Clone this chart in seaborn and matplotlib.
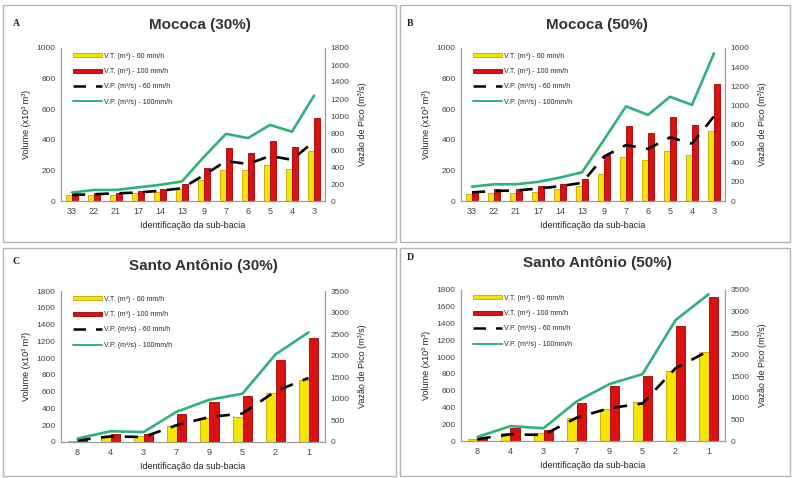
import numpy as np
import pandas as pd
import matplotlib
matplotlib.use("Agg")
import matplotlib.pyplot as plt
import seaborn as sns
from matplotlib.patches import Patch, Rectangle
from matplotlib.lines import Line2D

# sub-basins (x axis order)
cats_moc = ['33', '22', '21', '17', '14', '13', '9', '7', '6', '5', '4', '3']
cats_sa = ['8', '4', '3', '7', '9', '5', '2', '1']

# Mococa 30%
vt60_a = [40, 40, 40, 50, 60, 80, 140, 205, 200, 235, 210, 330]
vt100_a = [50, 55, 55, 65, 80, 110, 215, 345, 315, 390, 350, 545]
vp60_a = [70, 80, 90, 100, 120, 150, 305, 470, 435, 530, 485, 700]
vp100_a = [100, 130, 130, 160, 190, 230, 520, 790, 740, 895, 815, 1240]

# Mococa 50%
vt60_b = [45, 55, 50, 60, 80, 100, 175, 290, 265, 330, 300, 460]
vt100_b = [60, 80, 80, 95, 110, 145, 300, 490, 445, 550, 500, 765]
vp60_b = [90, 105, 110, 130, 155, 190, 465, 585, 545, 665, 600, 885]
vp100_b = [150, 175, 175, 200, 245, 300, 640, 990, 900, 1090, 1005, 1545]

# Santo Antonio 30%
vt60_c = [10, 60, 70, 190, 290, 300, 580, 740]
vt100_c = [25, 90, 100, 330, 480, 550, 980, 1240]
vp60_c = [40, 130, 115, 390, 580, 660, 1175, 1485]
vp100_c = [80, 250, 230, 700, 980, 1120, 2030, 2540]

# Santo Antonio 50%
vt60_d = [20, 100, 90, 270, 380, 470, 830, 1060]
vt100_d = [40, 150, 130, 450, 660, 775, 1370, 1720]
vp60_d = [46, 155, 140, 540, 760, 870, 1685, 2090]
vp100_d = [95, 345, 295, 915, 1320, 1550, 2800, 3400]

YELLOW = '#f4e600'
RED = '#dd1010'
GREEN = '#2fb27a'
GRAY = '#9a9a9a'

sns.set_style('white')
plt.rcParams['font.family'] = ['Liberation Sans', 'DejaVu Sans']

fig = plt.figure(figsize=(7.93, 4.78), dpi=100)
W, H = 793, 478


def px_axes(left, top, right, bottom):
    return fig.add_axes([left / W, 1 - bottom / H, (right - left) / W, (bottom - top) / H])


def panel(box, cats, vt60, vt100, vp60, vp100, ylim, yticks, rlim, rticks):
    ax = px_axes(*box)
    df = pd.DataFrame({
        'sub': cats * 2,
        'vol': vt60 + vt100,
        'chuva': ['60'] * len(cats) + ['100'] * len(cats),
    })
    sns.barplot(data=df, x='sub', y='vol', hue='chuva', order=cats,
                hue_order=['60', '100'], palette=[YELLOW, RED], width=0.58,
                saturation=1, ax=ax, legend=False)
    for bar in ax.patches[:len(cats)]:
        bar.set_edgecolor('#c9a400')
        bar.set_linewidth(0.6)
    for bar in ax.patches[len(cats):2 * len(cats)]:
        bar.set_edgecolor('#a00000')
        bar.set_linewidth(0.6)
    ax.set_xlim(-0.5, len(cats) - 0.5)
    ax.set_ylim(*ylim)
    ax.set_yticks(yticks)
    ax.set_xlabel('Identificação da sub-bacia', fontsize=6.5, color='#222222', labelpad=4)
    ax.set_ylabel('Volume (x10³ m³)', fontsize=6.5, color='#222222', labelpad=4)

    ax2 = ax.twinx()
    pos = np.arange(len(cats))
    sns.lineplot(x=pos, y=vp60, ax=ax2, color='black', lw=1.9, dashes=False)
    ax2.lines[-1].set_dashes([5, 4])
    sns.lineplot(x=pos, y=vp100, ax=ax2, color=GREEN, lw=1.9)
    ax2.set_ylim(*rlim)
    ax2.set_yticks(rticks)
    ax2.set_ylabel('Vazão de Pico (m³/s)', fontsize=6.5, color='#222222', labelpad=6)

    for a in (ax, ax2):
        a.spines['top'].set_visible(False)
        for s in ('left', 'right', 'bottom'):
            a.spines[s].set_color(GRAY)
            a.spines[s].set_linewidth(0.8)
        a.tick_params(labelsize=6, colors='#444444', length=0, pad=4)
    ax.tick_params(axis='x', labelsize=6.5)

    handles = [
        Patch(facecolor=YELLOW, edgecolor='#c9a400', lw=0.6),
        Patch(facecolor=RED, edgecolor='#a00000', lw=0.6),
        Line2D([], [], color='black', lw=1.8, dashes=[5, 4]),
        Line2D([], [], color=GREEN, lw=1.4),
    ]
    labels = ['V.T. (m³) - 60 mm/h', 'V.T. (m³) - 100 mm/h',
              'V.P. (m³/s) - 60 mm/h', 'V.P. (m³/s) - 100mm/h']
    ax2.legend(handles, labels, loc='upper left', bbox_to_anchor=(0.02, 1.01),
               frameon=False, fontsize=5, labelspacing=1.2, handlelength=4.2,
               handleheight=0.5, handletextpad=0.4)
    return ax


def frame(left, top, right, bottom):
    fig.add_artist(Rectangle((left / W, 1 - bottom / H), (right - left) / W,
                             (bottom - top) / H, transform=fig.transFigure,
                             fill=False, ec='#b5b5b5', lw=1.0))


frame(3, 5, 396, 242)
frame(400, 5, 790, 242)
frame(3, 248, 396, 476)
frame(400, 248, 790, 476)

panel((61, 48, 325, 201), cats_moc, vt60_a, vt100_a, vp60_a, vp100_a,
      (0, 1000), range(0, 1001, 200), (0, 1800), range(0, 1801, 200))
panel((461, 48, 725, 201), cats_moc, vt60_b, vt100_b, vp60_b, vp100_b,
      (0, 1000), range(0, 1001, 200), (0, 1600), range(0, 1601, 200))
panel((61, 291, 325, 442), cats_sa, vt60_c, vt100_c, vp60_c, vp100_c,
      (0, 1800), range(0, 1801, 200), (0, 3500), range(0, 3501, 500))
panel((461, 290, 725, 441), cats_sa, vt60_d, vt100_d, vp60_d, vp100_d,
      (0, 1800), range(0, 1801, 200), (0, 3500), range(0, 3501, 500))

titles = [('Mococa (30%)', 200, 25), ('Mococa (50%)', 597, 25),
          ('Santo Antônio (30%)', 203, 266), ('Santo Antônio (50%)', 597, 263)]
for t, x, y in titles:
    fig.text(x / W, 1 - y / H, t, ha='center', va='center', fontsize=11,
             fontweight='bold', color='#333333')

letters = [('A', 16, 24), ('B', 410, 24), ('C', 16, 262), ('D', 410, 258)]
for t, x, y in letters:
    fig.text(x / W, 1 - y / H, t, ha='center', va='center', fontsize=7,
             fontweight='bold', family='Liberation Serif', color='#222222')

fig.savefig('out.png', dpi=100)
